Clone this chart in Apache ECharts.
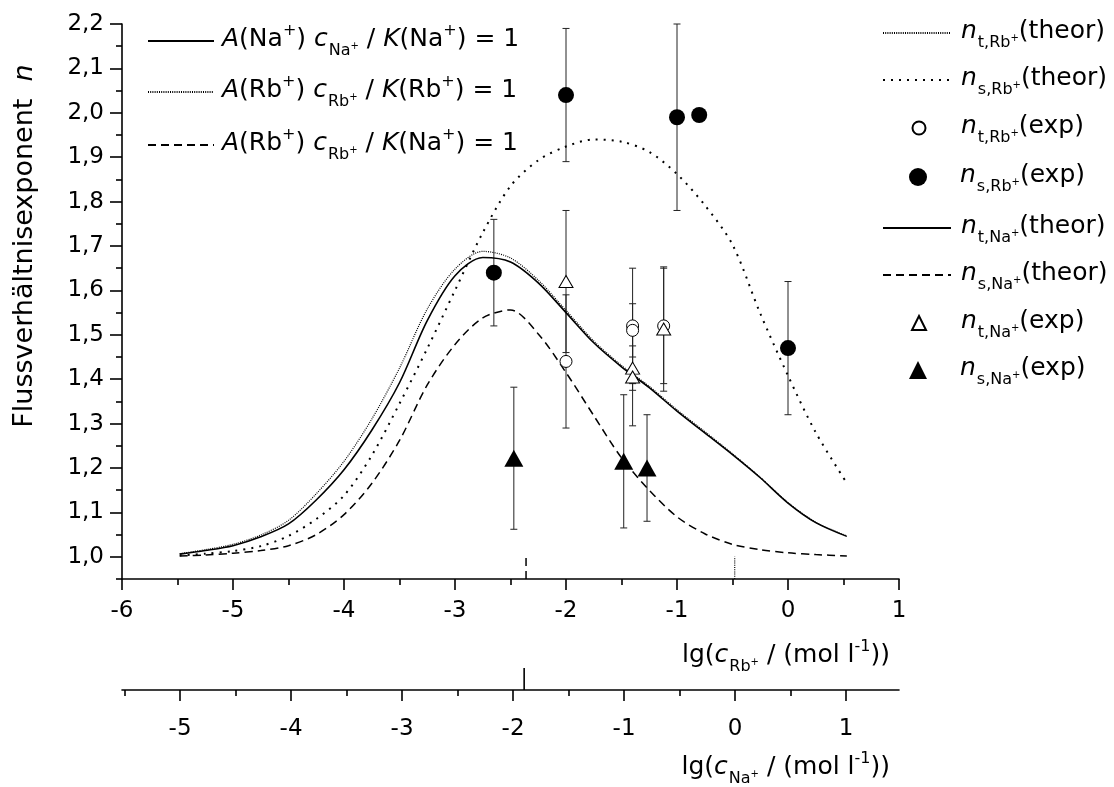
<!DOCTYPE html>
<html><head><meta charset="utf-8">
<script src="https://cdn.jsdelivr.net/npm/echarts@6/dist/echarts.min.js"></script>
<style>html,body{margin:0;padding:0;background:#fff}#c{width:1114px;height:787px}</style>
</head><body><div id="c"></div>
<script>
const FONT = '"DejaVu Sans", sans-serif';

// ---- theoretical curves (x = lg(c_Rb+ / (mol l^-1))) ----
const theorX    = [-5.48,-5.25,-5,-4.75,-4.5,-4.25,-4,-3.75,-3.5,-3.25,-3,-2.75,-2.5,-2.25,-2,-1.75,-1.5,-1.25,-1,-0.75,-0.5,-0.25,0,0.25,0.53];
const ntNaTheor = [1.006,1.014,1.025,1.045,1.074,1.128,1.196,1.285,1.392,1.532,1.633,1.674,1.664,1.617,1.550,1.482,1.428,1.381,1.328,1.279,1.230,1.178,1.121,1.077,1.046];
const ntRbTheor = [1.007,1.016,1.028,1.049,1.082,1.142,1.215,1.310,1.425,1.558,1.648,1.688,1.673,1.623,1.555,1.486,1.431,1.384,1.331,1.282,1.232,1.179,1.122,1.078,1.047];
const nsRbTheor = [1.003,1.007,1.013,1.024,1.047,1.085,1.138,1.228,1.345,1.469,1.600,1.730,1.835,1.893,1.924,1.940,1.935,1.912,1.862,1.792,1.703,1.548,1.408,1.280,1.166];
const nsNaTheor = [1.002,1.004,1.008,1.014,1.025,1.050,1.095,1.165,1.262,1.387,1.478,1.538,1.556,1.502,1.415,1.318,1.223,1.150,1.090,1.052,1.028,1.016,1.009,1.005,1.002];

// ---- experimental points: x, value, error ----
const tRbX = [-2.0, -1.4, -1.4, -1.12];
const tRbY = [1.44, 1.52, 1.51, 1.52];
const tRbErr = [0.15, 0.13, 0.06, 0.13];
const sRbX = [-2.65, -2.0, -1.0, -0.8, 0.0];
const sRbY = [1.64, 2.04, 1.99, 1.995, 1.47];
const sRbErr = [0.12, 0.15, 0.21, 0, 0.15];
const tNaX = [-2.0, -1.4, -1.4, -1.12];
const tNaY = [1.62, 1.425, 1.405, 1.513];
const tNaErr = [0.16, 0.05, 0.11, 0.14];
const sNaX = [-2.47, -1.48, -1.27];
const sNaY = [1.222, 1.215, 1.20];
const sNaErr = [0.16, 0.15, 0.12];

// ---- reference markers on the axes ----
const markerRbDashedX = -2.36;
const markerRbDottedX = -0.48;
const markerNaSolidX = -1.90;
const markerY = [0.95, 1.0];

// ---- axis ticks ----
const yMajor = [1.0,1.1,1.2,1.3,1.4,1.5,1.6,1.7,1.8,1.9,2.0,2.1,2.2];
const yMinor = [0.95,1.05,1.15,1.25,1.35,1.45,1.55,1.65,1.75,1.85,1.95,2.05,2.15];
const naMajor = [-5,-4,-3,-2,-1,0,1];
const naMinor = [-5.5,-4.5,-3.5,-2.5,-1.5,-0.5,0.5];
const naOffset = 0.477; // lg(c_Na+) = lg(c_Rb+) + 0.477

// ---- names ----
const NAMES = {
  aNa:'A_Na', aRbRb:'A_Rb_Rb', aRbNa:'A_Rb_Na',
  ntRbT:'nt_Rb_theor', nsRbT:'ns_Rb_theor', ntRbE:'nt_Rb_exp', nsRbE:'ns_Rb_exp',
  ntNaT:'nt_Na_theor', nsNaT:'ns_Na_theor', ntNaE:'nt_Na_exp', nsNaE:'ns_Na_exp'
};
const LABELS = {
  A_Na: '{i|A}{t|(Na}{sp|+}{t|) }{i|c}{sb|Na}{ss|+}{t| / }{i|K}{t|(Na}{sp|+}{t|) = 1}',
  A_Rb_Rb: '{i|A}{t|(Rb}{sp|+}{t|) }{i|c}{sb|Rb}{ss|+}{t| / }{i|K}{t|(Rb}{sp|+}{t|) = 1}',
  A_Rb_Na: '{i|A}{t|(Rb}{sp|+}{t|) }{i|c}{sb|Rb}{ss|+}{t| / }{i|K}{t|(Na}{sp|+}{t|) = 1}',
  nt_Rb_theor: '{i|n}{sb|t,Rb}{ss|+}{t|(theor)}',
  ns_Rb_theor: '{i|n}{sb|s,Rb}{ss|+}{t|(theor)}',
  nt_Rb_exp: '{i|n}{sb|t,Rb}{ss|+}{t|(exp)}',
  ns_Rb_exp: '{i|n}{sb|s,Rb}{ss|+}{t|(exp)}',
  nt_Na_theor: '{i|n}{sb|t,Na}{ss|+}{t|(theor)}',
  ns_Na_theor: '{i|n}{sb|s,Na}{ss|+}{t|(theor)}',
  nt_Na_exp: '{i|n}{sb|t,Na}{ss|+}{t|(exp)}',
  ns_Na_exp: '{i|n}{sb|s,Na}{ss|+}{t|(exp)}'
};

const FS = 25;
const LH = 36;
const tok = (fs, extra, pad) => Object.assign({fontSize: fs, fontFamily: FONT, fontWeight: 'normal', color: '#000',
  verticalAlign: 'top', lineHeight: LH, padding: pad}, extra);
const rich = {
  t:  tok(FS, {}, [4,0,0,0]),
  i:  tok(FS, {fontStyle: 'italic'}, [4,0,0,0]),
  sb: tok(16, {}, [20,0,0,1]),
  ss: tok(10, {}, [18,0,0,0]),
  sp: tok(16, {}, [0,0,0,0])
};

const pairs = (xs, ys) => xs.map((x, i) => [x, ys[i]]);
const errData = (xs, ys, es) => xs.map((x, i) => [x, ys[i] - es[i], ys[i] + es[i]]).filter(d => d[2] > d[1]);

function errSeries(xs, ys, es) {
  return {
    type: 'custom', coordinateSystem: 'cartesian2d', xAxisIndex: 0, yAxisIndex: 0,
    silent: true, z: 1, encode: {x: 0, y: [1, 2]},
    data: errData(xs, ys, es),
    renderItem: (params, api) => {
      const lo = api.coord([api.value(0), api.value(1)]);
      const hi = api.coord([api.value(0), api.value(2)]);
      const w = 3.5, st = {stroke: '#222', lineWidth: 1};
      return {type: 'group', children: [
        {type: 'line', shape: {x1: lo[0], y1: lo[1], x2: hi[0], y2: hi[1]}, style: st},
        {type: 'line', shape: {x1: lo[0]-w, y1: lo[1], x2: lo[0]+w, y2: lo[1]}, style: st},
        {type: 'line', shape: {x1: hi[0]-w, y1: hi[1], x2: hi[0]+w, y2: hi[1]}, style: st}
      ]};
    }
  };
}

const lineBase = {type: 'line', xAxisIndex: 0, yAxisIndex: 0, symbol: 'none', smooth: 0.3, z: 2, itemStyle: {color: '#000'}};

const series = [
  errSeries(tRbX, tRbY, tRbErr),
  errSeries(sRbX, sRbY, sRbErr),
  errSeries(tNaX, tNaY, tNaErr),
  errSeries(sNaX, sNaY, sNaErr),
  Object.assign({}, lineBase, {name: NAMES.ntRbT, data: pairs(theorX, ntRbTheor), lineStyle: {color: '#000', width: 1.2, type: [1, 1.2]}}),
  Object.assign({}, lineBase, {name: NAMES.nsRbT, data: pairs(theorX, nsRbTheor), lineStyle: {color: '#000', width: 2, type: [2, 6]}}),
  Object.assign({}, lineBase, {name: NAMES.ntNaT, data: pairs(theorX, ntNaTheor), lineStyle: {color: '#000', width: 1.6, type: 'solid'}}),
  Object.assign({}, lineBase, {name: NAMES.nsNaT, data: pairs(theorX, nsNaTheor), lineStyle: {color: '#000', width: 1.5, type: [8, 5]}}),
  {type: 'scatter', name: NAMES.ntRbE, xAxisIndex: 0, yAxisIndex: 0, symbol: 'circle', symbolSize: 12, z: 3,
   itemStyle: {color: '#fff', borderColor: '#000', borderWidth: 1, opacity: 1}, data: pairs(tRbX, tRbY)},
  {type: 'scatter', name: NAMES.nsRbE, xAxisIndex: 0, yAxisIndex: 0, symbol: 'circle', symbolSize: 16, z: 3,
   itemStyle: {color: '#000', opacity: 1}, data: pairs(sRbX, sRbY)},
  {type: 'scatter', name: NAMES.ntNaE, xAxisIndex: 0, yAxisIndex: 0, symbol: 'triangle', symbolSize: [14, 12], z: 3,
   itemStyle: {color: '#fff', borderColor: '#000', borderWidth: 1, opacity: 1}, data: pairs(tNaX, tNaY)},
  {type: 'scatter', name: NAMES.nsNaE, xAxisIndex: 0, yAxisIndex: 0, symbol: 'triangle', symbolSize: [19, 17], z: 3,
   itemStyle: {color: '#000', opacity: 1}, data: pairs(sNaX, sNaY)},
  Object.assign({}, lineBase, {name: NAMES.aRbRb, smooth: false, data: [[markerRbDottedX, markerY[0]], [markerRbDottedX, markerY[1]]],
   lineStyle: {color: '#000', width: 1.2, type: [1, 1.2]}}),
  Object.assign({}, lineBase, {name: NAMES.aRbNa, smooth: false, data: [[markerRbDashedX, markerY[0]], [markerRbDashedX, markerY[1]]],
   lineStyle: {color: '#000', width: 1.5, type: [8, 5]}}),
  Object.assign({}, lineBase, {name: NAMES.aNa, smooth: false, xAxisIndex: 1, yAxisIndex: 2, data: [[markerNaSolidX, 0], [markerNaSolidX, 1]],
   lineStyle: {color: '#000', width: 1.6, type: 'solid'}})
];

// legend layout (one legend per entry)
const legendDefs = [
  {name: NAMES.aNa,   cy: 41,  left: 147, w: 66},
  {name: NAMES.aRbRb, cy: 92,  left: 147, w: 66},
  {name: NAMES.aRbNa, cy: 145, left: 147, w: 66},
  {name: NAMES.ntRbT, cy: 33,  left: 882, w: 68},
  {name: NAMES.nsRbT, cy: 80,  left: 882, w: 68},
  {name: NAMES.ntRbE, cy: 128, sym: 13},
  {name: NAMES.nsRbE, cy: 177, sym: 18},
  {name: NAMES.ntNaT, cy: 228, left: 882, w: 68},
  {name: NAMES.nsNaT, cy: 275, left: 882, w: 68},
  {name: NAMES.ntNaE, cy: 323, sym: 14},
  {name: NAMES.nsNaE, cy: 370, sym: 18}
];
const TEXT_X = 960;
const legends = legendDefs.map(d => {
  let left, iw, ih, pl, istyle;
  if (d.sym) { iw = d.sym; ih = d.sym; left = 918 - d.sym / 2; pl = TEXT_X - (918 + d.sym / 2 + 5); istyle = {}; }
  else { iw = d.w; ih = 14; left = d.left; pl = d.left > 500 ? TEXT_X - (d.left + d.w + 5) : 3; istyle = {opacity: 0}; }
  return {
    show: true, orient: 'vertical', selectedMode: false, padding: 0, itemGap: 0,
    left: left, top: d.cy - LH / 2, itemWidth: iw, itemHeight: ih, itemStyle: istyle,
    data: [d.name], formatter: n => LABELS[n],
    textStyle: {rich: rich, padding: [0, 0, 0, pl]}
  };
});

const axisLineStyle = {color: '#000', width: 1.6};
const tickFont = {fontSize: 23, fontFamily: FONT, color: '#000'};
const option = {
  animation: false,
  backgroundColor: '#fff',
  grid: [
    {left: 122, right: 215, top: 24, height: 555},
    {left: 122, right: 215, top: 668, height: 22}
  ],
  xAxis: [
    {gridIndex: 0, type: 'value', min: -6, max: 1, interval: 1, position: 'bottom',
     axisLine: {show: true, onZero: false, lineStyle: axisLineStyle},
     axisTick: {show: true, length: 11, lineStyle: axisLineStyle},
     minorTick: {show: true, splitNumber: 2, length: 6, lineStyle: axisLineStyle},
     axisLabel: Object.assign({margin: 21, formatter: v => String(v)}, tickFont),
     splitLine: {show: false}, minorSplitLine: {show: false}},
    {gridIndex: 1, type: 'value', min: -5.5 - 0.023, max: 1 + naOffset, position: 'bottom',
     axisLine: {show: true, onZero: false, lineStyle: axisLineStyle},
     axisTick: {show: true, length: 11, customValues: naMajor, lineStyle: axisLineStyle},
     axisLabel: Object.assign({margin: 28, customValues: naMajor, formatter: v => String(Math.round(v))}, tickFont),
     splitLine: {show: false}},
    {gridIndex: 1, type: 'value', min: -5.5 - 0.023, max: 1 + naOffset, position: 'bottom',
     axisLine: {show: false, onZero: false}, axisLabel: {show: false},
     axisTick: {show: true, length: 6, customValues: naMinor, lineStyle: axisLineStyle},
     splitLine: {show: false}}
  ],
  yAxis: [
    {gridIndex: 0, type: 'value', min: 0.95, max: 2.2, position: 'left',
     axisLine: {show: true, onZero: false, lineStyle: axisLineStyle},
     axisTick: {show: true, length: 12, customValues: yMajor, lineStyle: axisLineStyle},
     axisLabel: Object.assign({margin: 18, customValues: yMajor, formatter: v => v.toFixed(1).replace('.', ',')}, tickFont),
     splitLine: {show: false}},
    {gridIndex: 0, type: 'value', min: 0.95, max: 2.2, position: 'left',
     axisLine: {show: false, onZero: false}, axisLabel: {show: false},
     axisTick: {show: true, length: 6, customValues: yMinor, lineStyle: axisLineStyle},
     splitLine: {show: false}},
    {gridIndex: 1, type: 'value', min: 0, max: 1, show: false}
  ],
  title: [
    {text: '{t|lg(}{i|c}{sb|Rb}{ss|+}{t| / (mol l}{sp|-1}{t|))}', right: 224, top: 639, padding: 0,
     textStyle: {rich: rich, fontWeight: 'normal'}},
    {text: '{t|lg(}{i|c}{sb|Na}{ss|+}{t| / (mol l}{sp|-1}{t|))}', right: 224, top: 751, padding: 0,
     textStyle: {rich: rich, fontWeight: 'normal'}}
  ],
  graphic: [
    {type: 'text', x: 25, y: 246, rotation: Math.PI / 2,
     style: {text: '{t|Flussverhältnisexponent  }{i|n}', align: 'center', verticalAlign: 'middle',
             rich: {t: {fontSize: 27, fontFamily: FONT, fill: '#000'}, i: {fontSize: 27, fontFamily: FONT, fontStyle: 'italic', fill: '#000'}}}}
  ],
  legend: legends,
  series: series
};

const chart = echarts.init(document.getElementById('c'));
chart.setOption(option);
</script>
</body></html>
